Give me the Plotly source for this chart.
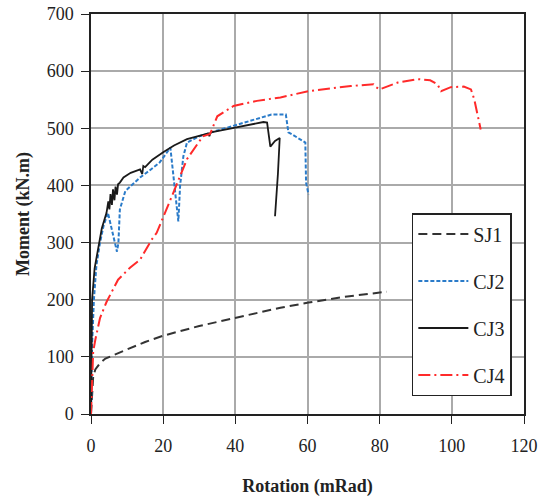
import plotly.graph_objects as go

# SJ1
sj1_x = [0, 0.3, 0.6, 1.2, 2.5, 4, 6.1, 10, 15, 20, 30, 40, 52.5, 60.3, 70, 82]
sj1_y = [0, 40, 65, 78, 89, 97, 103, 113, 126, 137, 154, 168, 186, 195, 205, 214]

# CJ2
cj2_x = [0, 0.3, 0.8, 1.5, 2.5, 3.5, 4.7, 6.0, 7.2, 7.6, 8.0, 9.5, 11.4, 13.6, 16, 19, 22, 23.2, 24.2, 24.7, 25.6, 26.6,
         30, 35, 40, 45, 50, 54, 54.7, 55.8, 59.4, 59.6, 60.3]
cj2_y = [0, 120, 200, 260, 300, 330, 352, 318, 284, 300, 358, 390, 402, 414, 425, 440, 466, 400, 337, 400, 451, 475,
         486, 496, 505, 515, 524, 524, 493, 489, 475, 405, 384]

# CJ3
cj3_x = [0, 0.3, 1.0, 2.0, 3.0, 4.3, 4.8, 5.1, 5.4, 5.8, 6.1, 6.5, 6.8, 7.2, 7.5, 8.0, 9.0, 11, 13.6, 14.2, 14.5, 15, 17,
         20, 23, 26.6, 30, 32.6, 32.8, 33.2, 35, 40, 44, 47.8, 48.8, 49.7, 51, 52.3, 51.8, 51]
cj3_y = [0, 200, 255, 293, 325, 352, 372, 358, 385, 366, 393, 374, 398, 384, 402, 405, 414, 422, 428, 420, 434, 432, 445,
         458, 470, 481, 487, 491, 486, 493, 495, 501, 507, 511, 510, 468, 478, 483, 420, 346]

# CJ4
cj4_x = [0, 0.3, 0.6, 1.2, 2.5, 4.3, 7.5, 10.8, 13.6, 16.8, 18.2, 22.8, 26.6, 31, 33, 35, 39.5, 46, 52.5, 60.3, 66, 72,
         78.3, 79, 80, 85, 90.6, 94, 96, 97, 99.7, 103.3, 105.3, 106.2, 108]
cj4_y = [0, 77, 109, 130, 168, 196, 235, 256, 270, 305, 317, 387, 446, 486, 490, 521, 539, 548, 554, 565, 569, 574,
         577, 572, 568, 580, 586, 584, 577, 565, 572, 573, 568, 551, 498]

x_ticks = [0, 20, 40, 60, 80, 100, 120]
y_ticks = [0, 100, 200, 300, 400, 500, 600, 700]

FONT = "Liberation Serif"

fig = go.Figure()
fig.add_trace(go.Scatter(x=sj1_x, y=sj1_y, mode="lines", name="SJ1", legendgroup="a",
                         line=dict(color="#333333", width=2, dash="9px,5px")))
fig.add_trace(go.Scatter(x=cj2_x, y=cj2_y, mode="lines", name="CJ2", legendgroup="b",
                         line=dict(color="#2a7bc9", width=2, dash="4px,2px")))
fig.add_trace(go.Scatter(x=cj3_x, y=cj3_y, mode="lines", name="CJ3", legendgroup="c",
                         line=dict(color="#1a1a1a", width=1.8)))
fig.add_trace(go.Scatter(x=cj4_x, y=cj4_y, mode="lines", name="CJ4", legendgroup="d",
                         line=dict(color="#ff2a2a", width=2, dash="12px,4px,2px,4px")))

fig.update_layout(
    width=547, height=499,
    margin=dict(l=91, r=23, t=14, b=85),
    paper_bgcolor="white", plot_bgcolor="white",
    font=dict(family=FONT, size=18, color="#222"),
    legend=dict(x=0.741, y=0.5025, xanchor="left", yanchor="top",
                bgcolor="white", bordercolor="#222", borderwidth=1.5,
                font=dict(family=FONT, size=20, color="#222"),
                tracegroupgap=18, itemwidth=50),
    showlegend=True,
)
fig.update_xaxes(range=[0, 120], tickvals=x_ticks, showgrid=True, gridcolor="#aaaaaa", gridwidth=1.5,
                 showline=True, linecolor="#222", linewidth=1.5, mirror=True, automargin=False,
                 ticks="outside", ticklen=8, tickcolor="#222", zeroline=False, ticklabelstandoff=7,
                 ticklabeloverflow="allow",
                 title=dict(text="<b>Rotation (mRad)</b>", font=dict(family=FONT, size=18), standoff=24))
fig.update_yaxes(range=[0, 700], tickvals=y_ticks, showgrid=True, gridcolor="#aaaaaa", gridwidth=1.5,
                 showline=True, linecolor="#222", linewidth=1.5, mirror=True, automargin=False,
                 ticks="outside", ticklen=8, tickcolor="#222", zeroline=False, ticklabelstandoff=4,
                 ticklabeloverflow="allow",
                 title=dict(text="<b>Moment (kN.m)</b>", font=dict(family=FONT, size=18), standoff=12))

fig.write_html("out.html", config={"displayModeBar": False},
               post_script="document.body.style.margin='0';")
